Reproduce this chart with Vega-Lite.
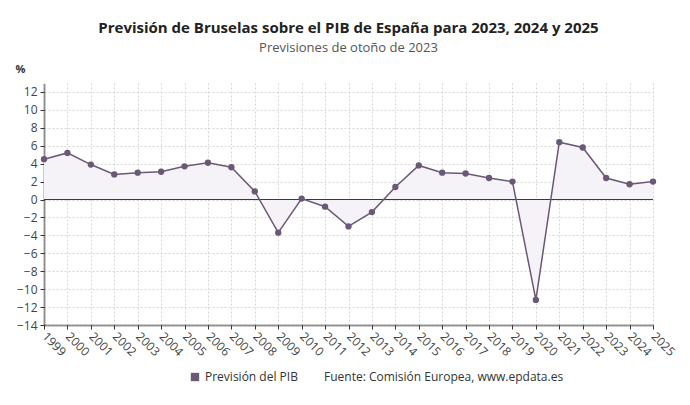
{
  "$schema": "https://vega.github.io/schema/vega-lite/v6.json",
  "width": 609,
  "height": 242,
  "autosize": {"type": "none"},
  "padding": {"left": 44, "top": 83, "right": 37, "bottom": 80},
  "background": "white",
  "config": {
    "font": "Open Sans",
    "view": {"stroke": null},
    "axis": {
      "labelFont": "Open Sans",
      "labelColor": "#444444",
      "gridColor": "#d6d6d6",
      "gridDash": [2, 2],
      "gridWidth": 1,
      "domainColor": "#333333",
      "domainDash": [1, 1],
      "domainWidth": 2,
      "tickColor": "#333333",
      "tickSize": 4,
      "labelOverlap": false
    }
  },
  "title": {
    "text": "Previsión de Bruselas sobre el PIB de España para 2023, 2024 y 2025",
    "subtitle": "Previsiones de otoño de 2023",
    "frame": "group",
    "anchor": "middle",
    "offset": 8,
    "font": "Open Sans",
    "fontSize": 15,
    "fontWeight": "bold",
    "color": "#222222",
    "subtitleFont": "Open Sans",
    "subtitleFontSize": 13,
    "subtitleColor": "#555555",
    "subtitlePadding": 6
  },
  "data": {
    "values": [
      {"year": "1999", "pib": 4.5, "serie": "Previsión del PIB"},
      {"year": "2000", "pib": 5.2, "serie": "Previsión del PIB"},
      {"year": "2001", "pib": 3.9, "serie": "Previsión del PIB"},
      {"year": "2002", "pib": 2.8, "serie": "Previsión del PIB"},
      {"year": "2003", "pib": 3.0, "serie": "Previsión del PIB"},
      {"year": "2004", "pib": 3.1, "serie": "Previsión del PIB"},
      {"year": "2005", "pib": 3.7, "serie": "Previsión del PIB"},
      {"year": "2006", "pib": 4.1, "serie": "Previsión del PIB"},
      {"year": "2007", "pib": 3.6, "serie": "Previsión del PIB"},
      {"year": "2008", "pib": 0.9, "serie": "Previsión del PIB"},
      {"year": "2009", "pib": -3.7, "serie": "Previsión del PIB"},
      {"year": "2010", "pib": 0.1, "serie": "Previsión del PIB"},
      {"year": "2011", "pib": -0.8, "serie": "Previsión del PIB"},
      {"year": "2012", "pib": -3.0, "serie": "Previsión del PIB"},
      {"year": "2013", "pib": -1.4, "serie": "Previsión del PIB"},
      {"year": "2014", "pib": 1.4, "serie": "Previsión del PIB"},
      {"year": "2015", "pib": 3.8, "serie": "Previsión del PIB"},
      {"year": "2016", "pib": 3.0, "serie": "Previsión del PIB"},
      {"year": "2017", "pib": 2.9, "serie": "Previsión del PIB"},
      {"year": "2018", "pib": 2.4, "serie": "Previsión del PIB"},
      {"year": "2019", "pib": 2.0, "serie": "Previsión del PIB"},
      {"year": "2020", "pib": -11.2, "serie": "Previsión del PIB"},
      {"year": "2021", "pib": 6.4, "serie": "Previsión del PIB"},
      {"year": "2022", "pib": 5.8, "serie": "Previsión del PIB"},
      {"year": "2023", "pib": 2.4, "serie": "Previsión del PIB"},
      {"year": "2024", "pib": 1.7, "serie": "Previsión del PIB"},
      {"year": "2025", "pib": 2.0, "serie": "Previsión del PIB"}
    ]
  },
  "encoding": {
    "x": {
      "field": "year",
      "type": "ordinal",
      "scale": {"type": "point", "padding": 0},
      "axis": {
        "title": null,
        "labelAngle": 45,
        "labelAlign": "left",
        "labelBaseline": "middle",
        "labelFontSize": 12,
        "labelPadding": 5,
        "grid": true
      }
    },
    "y": {
      "field": "pib",
      "type": "quantitative",
      "scale": {"domain": [-14, 13], "nice": false, "zero": false},
      "axis": {
        "title": "%",
        "titleAngle": 0,
        "titleX": -29,
        "titleY": -9,
        "titleAlign": "left",
        "titleBaseline": "bottom",
        "titleFont": "Open Sans",
        "titleFontSize": 11,
        "titleFontWeight": "bold",
        "titleColor": "#333333",
        "values": [-14, -12, -10, -8, -6, -4, -2, 0, 2, 4, 6, 8, 10, 12],
        "labelOverlap": false,
        "labelFontSize": 12,
        "labelPadding": 3,
        "grid": true
      }
    }
  },
  "layer": [
    {
      "mark": {"type": "area", "color": "#f5f3f7", "opacity": 1},
      "encoding": {"y2": {"datum": 0}}
    },
    {
      "mark": {"type": "rule", "color": "#3a3a3a", "strokeWidth": 1.2},
      "encoding": {"y": {"datum": 0}, "x": null}
    },
    {
      "mark": {"type": "line", "color": "#6b5876", "strokeWidth": 1.5},
      "encoding": {}
    },
    {
      "mark": {"type": "point", "filled": true, "opacity": 1, "size": 40},
      "encoding": {
        "color": {
          "field": "serie",
          "type": "nominal",
          "scale": {"range": ["#6b5876"]},
          "legend": {
            "orient": "none",
            "legendX": 145,
            "legendY": 288,
            "direction": "horizontal",
            "symbolType": "square",
            "symbolSize": 70,
            "labelFont": "Open Sans",
            "labelFontSize": 12,
            "labelColor": "#333333",
            "title": "Fuente: Comisión Europea, www.epdata.es",
            "titleOrient": "right",
            "titleLimit": 400,
            "titleFont": "Open Sans",
            "titleFontSize": 12,
            "titleFontWeight": "normal",
            "titleColor": "#333333",
            "titlePadding": 26,
            "titleBaseline": "middle"
          }
        }
      }
    }
  ]
}
